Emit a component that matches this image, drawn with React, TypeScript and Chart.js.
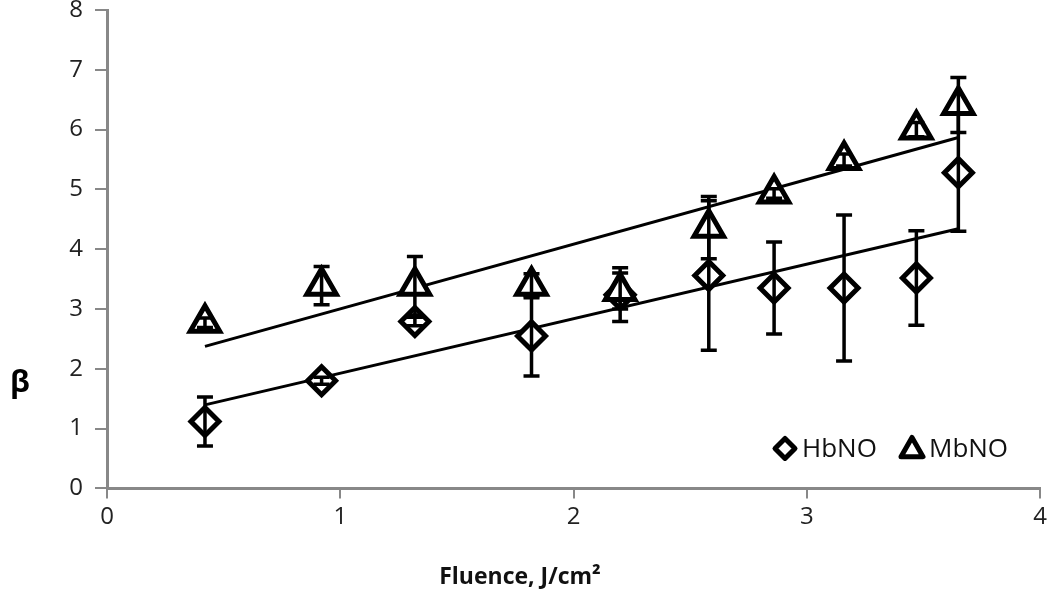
import React, { useEffect, useRef } from "react";
import { Chart, registerables } from "chart.js";

Chart.register(...registerables);

// Data
const fluence = [0.42, 0.92, 1.32, 1.82, 2.2, 2.58, 2.86, 3.16, 3.47, 3.65];
const hbno = [1.12, 1.8, 2.79, 2.55, 3.24, 3.56, 3.35, 3.35, 3.52, 5.28];
const hbnoErr = [0.41, 0.06, 0.07, 0.67, 0.45, 1.25, 0.77, 1.22, 0.79, 0.98];
const mbno = [2.77, 3.39, 3.39, 3.39, 3.3, 4.36, 4.93, 5.49, 6.0, 6.41];
const mbnoErr = [0.08, 0.32, 0.49, 0.2, 0.3, 0.52, 0.08, 0.1, 0.12, 0.46];
const seriesNames = ["HbNO", "MbNO"];
const xTitle = "Fluence, J/cm²";
const yTitle = "β";

const FONT = "'Open Sans', 'Liberation Sans', sans-serif";

function linFit(xs: number[], ys: number[]) {
  const n = xs.length;
  const mx = xs.reduce((a, b) => a + b, 0) / n;
  const my = ys.reduce((a, b) => a + b, 0) / n;
  let sxy = 0, sxx = 0;
  for (let i = 0; i < n; i++) {
    sxy += (xs[i] - mx) * (ys[i] - my);
    sxx += (xs[i] - mx) ** 2;
  }
  const m = sxy / sxx;
  const b = my - m * mx;
  const x0 = Math.min(...xs), x1 = Math.max(...xs);
  return [{ x: x0, y: m * x0 + b }, { x: x1, y: m * x1 + b }];
}

const errorBarsPlugin = {
  id: "errorBars",
  afterDatasetDraw(chart: any, args: any) {
    const ds = chart.data.datasets[args.index];
    const errs = ds.errors as number[] | undefined;
    if (!errs) return;
    const ys = chart.scales.y;
    const ctx = chart.ctx;
    ctx.save();
    ctx.strokeStyle = "#000";
    ctx.lineWidth = 3.5;
    args.meta.data.forEach((pt: any, i: number) => {
      const v = ds.data[i].y;
      const e = errs[i];
      const x = pt.x;
      const top = ys.getPixelForValue(v + e);
      const bot = ys.getPixelForValue(v - e);
      ctx.beginPath();
      ctx.moveTo(x, top);
      ctx.lineTo(x, bot);
      ctx.moveTo(x - 8, top);
      ctx.lineTo(x + 8, top);
      ctx.moveTo(x - 8, bot);
      ctx.lineTo(x + 8, bot);
      ctx.stroke();
    });
    ctx.restore();
  },
};

function drawDiamond(ctx: CanvasRenderingContext2D, x: number, y: number, r: number) {
  ctx.beginPath();
  ctx.moveTo(x, y - r);
  ctx.lineTo(x + r, y);
  ctx.lineTo(x, y + r);
  ctx.lineTo(x - r, y);
  ctx.closePath();
  ctx.fill();
  ctx.stroke();
}
function drawTriangle(ctx: CanvasRenderingContext2D, x: number, y: number, r: number) {
  ctx.beginPath();
  ctx.moveTo(x, y - r);
  ctx.lineTo(x + r, y + r * 0.75);
  ctx.lineTo(x - r, y + r * 0.75);
  ctx.closePath();
  ctx.fill();
  ctx.stroke();
}

const legendPlugin = {
  id: "customLegend",
  afterDraw(chart: any) {
    const { ctx, chartArea } = chart;
    const y = chartArea.bottom - 40;
    ctx.save();
    ctx.fillStyle = "#fff";
    ctx.strokeStyle = "#000";
    ctx.lineWidth = 5;
    ctx.lineJoin = "round";
    let x = chartArea.right - 255;
    drawDiamond(ctx, x, y, 10);
    ctx.fillStyle = "#111";
    ctx.font = `26px ${FONT}`;
    ctx.textBaseline = "middle";
    ctx.textAlign = "left";
    ctx.fillText(seriesNames[0], x + 17, y + 1);
    x = chartArea.right - 128;
    ctx.fillStyle = "#fff";
    drawTriangle(ctx, x, y, 11);
    ctx.fillStyle = "#111";
    ctx.fillText(seriesNames[1], x + 17, y + 1);
    // y axis label
    ctx.font = `bold 30px ${FONT}`;
    ctx.fillStyle = "#000";
    ctx.textAlign = "center";
    ctx.fillText(yTitle, 20, chart.scales.y.getPixelForValue(1.75));
    ctx.restore();
  },
};

export default function App() {
  const ref = useRef<HTMLCanvasElement>(null);
  useEffect(() => {
    document.body.style.margin = "0";
    const hbFit = linFit(fluence, hbno);
    const mbFit = linFit(fluence, mbno);
    const chart = new Chart(ref.current!, {
      type: "scatter",
      data: {
        datasets: [
          {
            label: seriesNames[0],
            data: fluence.map((x, i) => ({ x, y: hbno[i] })),
            errors: hbnoErr,
            pointStyle: "rectRot",
            pointRadius: 14,
            pointBorderWidth: 5,
            pointBackgroundColor: "#fff",
            pointBorderColor: "#000",
            order: 2,
          } as any,
          {
            label: seriesNames[1],
            data: fluence.map((x, i) => ({ x, y: mbno[i] })),
            errors: mbnoErr,
            pointStyle: "triangle",
            pointRadius: 17,
            pointBorderWidth: 5,
            pointBackgroundColor: "#fff",
            pointBorderColor: "#000",
            order: 1,
          } as any,
          {
            type: "line",
            label: "HbNO fit",
            data: hbFit,
            borderColor: "#000",
            borderWidth: 3,
            pointRadius: 0,
            showLine: true,
            order: 3,
          } as any,
          {
            type: "line",
            label: "MbNO fit",
            data: mbFit,
            borderColor: "#000",
            borderWidth: 3,
            pointRadius: 0,
            showLine: true,
            order: 3,
          } as any,
        ],
      },
      options: {
        animation: false,
        responsive: true,
        maintainAspectRatio: false,
        layout: { autoPadding: false, padding: { left: 0, right: 10, top: 10, bottom: 0 } },
        plugins: {
          legend: { display: false },
          tooltip: { enabled: false },
          title: {
            display: true,
            position: "bottom",
            text: xTitle,
            color: "#111",
            font: { family: FONT, size: 23, weight: "bold" },
            padding: { top: 0, bottom: 0 },
          },
        },
        scales: {
          x: {
            type: "linear",
            min: 0,
            max: 4,
            ticks: {
              stepSize: 1,
              color: "#222",
              font: { family: FONT, size: 24 },
              padding: 4,
            },
            grid: {
              drawOnChartArea: false,
              drawTicks: true,
              tickLength: 10,
              color: "#888",
              lineWidth: 2,
            },
            border: { display: true, color: "#888", width: 3 },
            afterFit: (s: any) => {
              s.height = 75;
              s.paddingLeft = 0;
              s.paddingRight = 0;
            },
          },
          y: {
            type: "linear",
            min: 0,
            max: 8,
            ticks: {
              stepSize: 1,
              color: "#222",
              font: { family: FONT, size: 24 },
              padding: 12,
            },
            grid: {
              drawOnChartArea: false,
              drawTicks: true,
              tickLength: 12,
              color: "#888",
              lineWidth: 2,
            },
            border: { display: true, color: "#888", width: 3 },
            afterFit: (s: any) => {
              s.width = 107;
              s.paddingTop = 0;
              s.paddingBottom = 0;
            },
          },
        },
      },
      plugins: [errorBarsPlugin, legendPlugin],
    } as any);
    return () => chart.destroy();
  }, []);
  return (
    <div style={{ position: "fixed", left: 0, top: 0, width: 1050, height: 591, background: "#fff" }}>
      <canvas ref={ref} />
    </div>
  );
}
